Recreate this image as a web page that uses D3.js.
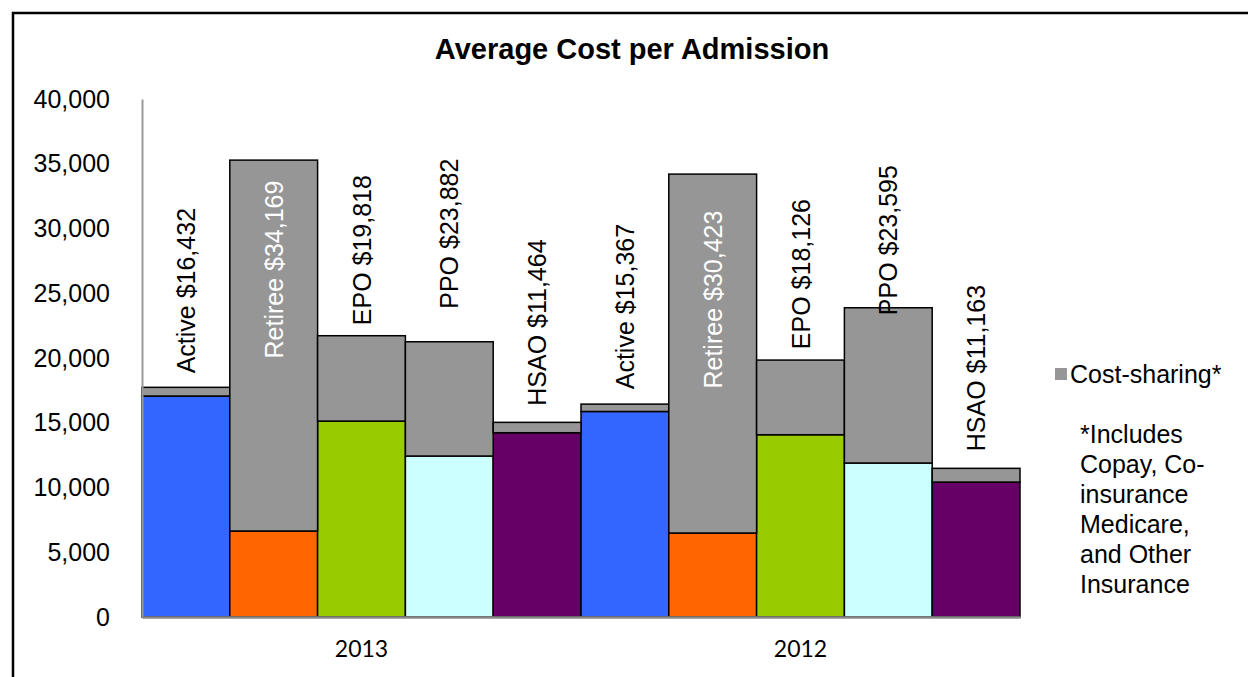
<!DOCTYPE html>
<html>
<head>
<meta charset="utf-8">
<script src="https://cdn.jsdelivr.net/npm/d3@7"></script>
<style>
  html, body { margin: 0; padding: 0; background: #fff; }
  svg { display: block; }
</style>
</head>
<body>
<svg id="chart" width="1248" height="677"></svg>
<script>
// ---- data ----
const years = ["2013", "2012"];
const plans = ["Active", "Retiree", "EPO", "PPO", "HSAO"];
const planColors = ["#3366FF", "#FF6600", "#99CC00", "#CCFFFF", "#660066"];
const baseValues2013 = [17065, 6640, 15130, 12430, 14230];
const costShare2013 = [670, 28640, 6590, 8824, 800];
const baseValues2012 = [15870, 6485, 14075, 11890, 10420];
const costShare2012 = [570, 27715, 5765, 11990, 1060];
const labels2013 = ["Active $16,432", "Retiree $34,169", "EPO $19,818", "PPO $23,882", "HSAO $11,464"];
const labels2012 = ["Active $15,367", "Retiree $30,423", "EPO $18,126", "PPO $23,595", "HSAO $11,163"];
const labelMid2013 = [25200, 26830, 28330, 29600, 22735];
const labelMid2012 = [23970, 24510, 26480, 29100, 19220];
const insideLabel2013 = [false, true, false, false, false];
const insideLabel2012 = [false, true, false, false, false];
const yTicks = [0, 5000, 10000, 15000, 20000, 25000, 30000, 35000, 40000];
const title = "Average Cost per Admission";
const legendLabel = "Cost-sharing*";
const noteLines = ["*Includes", "Copay, Co-", "insurance", "Medicare,", "and Other", "Insurance"];

(function () {
  // ---- build rows ----
  const bases = [baseValues2013, baseValues2012];
  const shares = [costShare2013, costShare2012];
  const labs = [labels2013, labels2012];
  const mids = [labelMid2013, labelMid2012];
  const insides = [insideLabel2013, insideLabel2012];
  const rows = [];
  years.forEach((yr, gi) => {
    plans.forEach((p, pi) => {
      rows.push({
        key: yr + "-" + p, year: yr, plan: p, color: planColors[pi],
        base: bases[gi][pi], share: shares[gi][pi],
        label: labs[gi][pi], mid: mids[gi][pi], inside: insides[gi][pi]
      });
    });
  });

  const svg = d3.select("#chart");
  const FONT = "Arial, 'Liberation Sans', Helvetica, sans-serif";

  // frame
  svg.append("path")
    .attr("d", "M13,680 L13,13 L1251,13")
    .attr("fill", "none").attr("stroke", "#000").attr("stroke-width", 2.5);

  const plotLeft = 142, plotRight = 1020, plotTop = 99, plotBottom = 617;
  const x = d3.scaleBand().domain(rows.map(d => d.key)).range([plotLeft, plotRight]).padding(0);
  const xg = d3.scaleBand().domain(years).range([plotLeft, plotRight]).padding(0);
  const y = d3.scaleLinear().domain([0, 40000]).range([plotBottom, plotTop]);

  // title
  svg.append("text")
    .attr("x", 632).attr("y", 59)
    .attr("text-anchor", "middle")
    .attr("font-family", FONT).attr("font-weight", "bold").attr("font-size", 29)
    .attr("fill", "#000")
    .text(title);

  // bars
  const g = svg.append("g");
  g.selectAll("rect.base").data(rows).join("rect")
    .attr("class", "base")
    .attr("x", d => x(d.key)).attr("width", x.bandwidth())
    .attr("y", d => y(d.base)).attr("height", d => y(0) - y(d.base))
    .attr("fill", d => d.color).attr("stroke", "#000").attr("stroke-width", 1.5);
  g.selectAll("rect.share").data(rows).join("rect")
    .attr("class", "share")
    .attr("x", d => x(d.key)).attr("width", x.bandwidth())
    .attr("y", d => y(d.base + d.share)).attr("height", d => y(d.base) - y(d.base + d.share))
    .attr("fill", "#969696").attr("stroke", "#000").attr("stroke-width", 1.5);

  // y axis
  const yAxis = svg.append("g")
    .attr("transform", `translate(${plotLeft},0)`)
    .call(d3.axisLeft(y).tickValues(yTicks).tickSize(0).tickPadding(32).tickFormat(d3.format(",")));
  yAxis.select(".domain").attr("stroke", "#999").attr("stroke-width", 2);
  yAxis.selectAll("text").attr("font-family", FONT).attr("font-size", 25).attr("fill", "#000");

  // x axis baseline
  const xAxis = svg.append("g")
    .attr("transform", `translate(0,${plotBottom})`)
    .call(d3.axisBottom(xg).tickSize(0).tickPadding(24));
  xAxis.select(".domain").attr("stroke", "#888").attr("stroke-width", 2.5);
  xAxis.selectAll("text").attr("font-family", "Lato, Carlito, Calibri, sans-serif").attr("font-size", 23).attr("fill", "#000");

  // data labels (rotated)
  svg.append("g").selectAll("text").data(rows).join("text")
    .attr("transform", d => `translate(${x(d.key) + x.bandwidth() / 2},${y(d.mid)}) rotate(-90)`)
    .attr("text-anchor", "middle")
    .attr("dy", "0.36em")
    .attr("font-family", FONT).attr("font-size", 25)
    .attr("fill", d => d.inside ? "#fff" : "#000")
    .text(d => d.label);

  // legend
  const lg = svg.append("g");
  lg.append("rect").attr("x", 1055).attr("y", 368).attr("width", 12).attr("height", 12).attr("fill", "#969696");
  lg.append("text").attr("x", 1070).attr("y", 383)
    .attr("font-family", FONT).attr("font-size", 25).attr("fill", "#000")
    .text(legendLabel);

  // note
  svg.append("g").selectAll("text").data(noteLines).join("text")
    .attr("x", 1080).attr("y", (d, i) => 443 + i * 30)
    .attr("font-family", FONT).attr("font-size", 25).attr("fill", "#000")
    .text(d => d);
})();
</script>
</body>
</html>
